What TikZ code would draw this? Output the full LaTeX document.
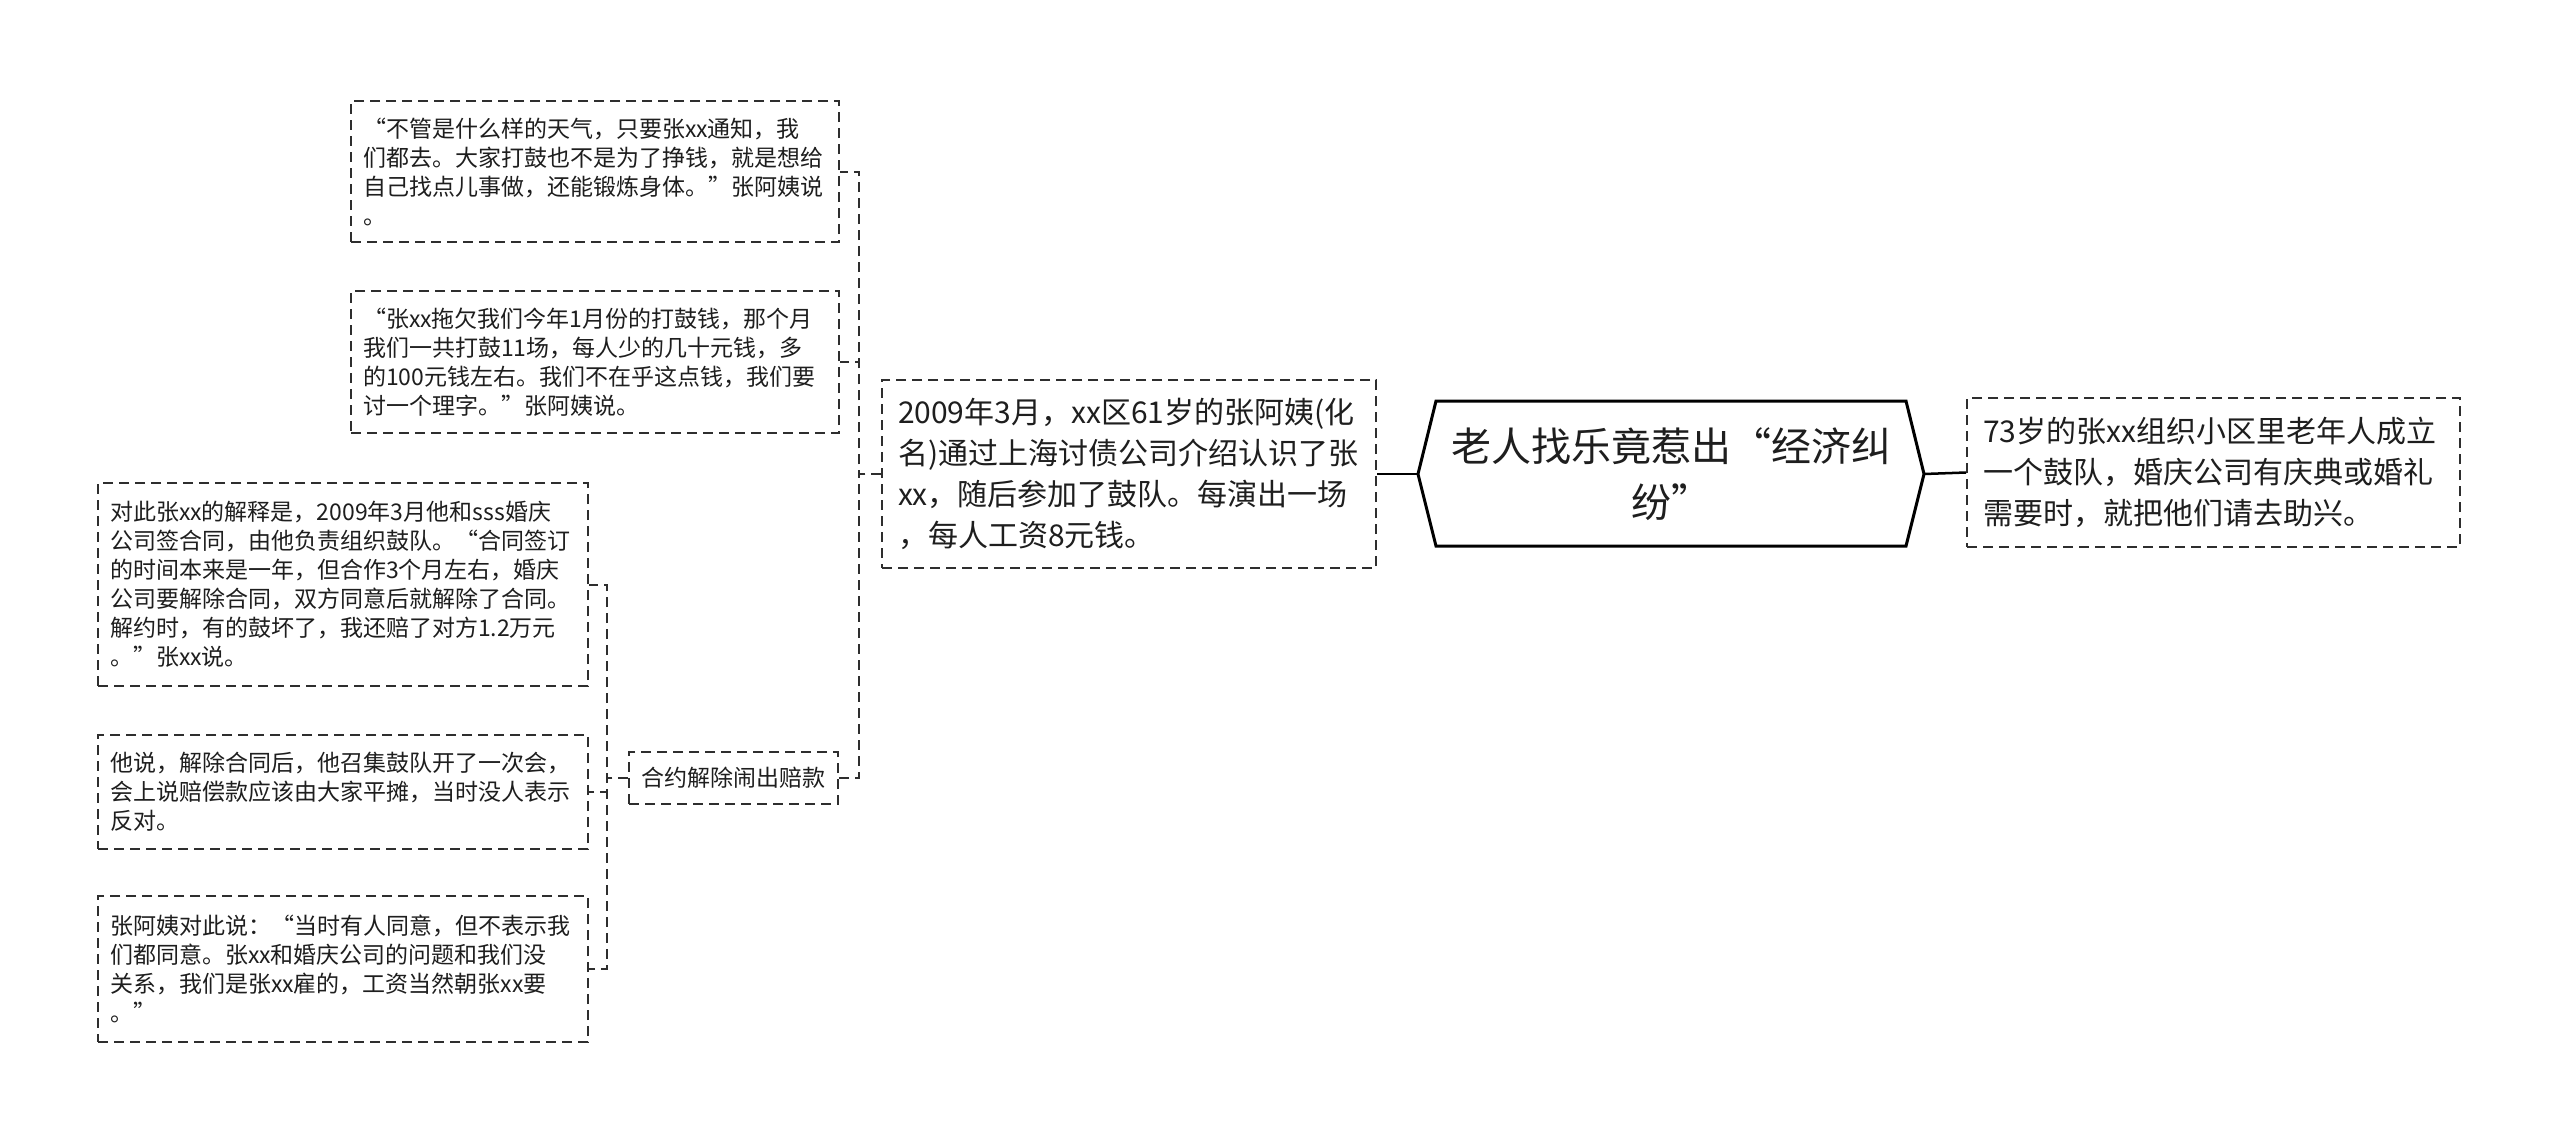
\documentclass[tikz,border=0pt]{standalone}
\usepackage{fontspec}
\setmainfont{Noto Sans CJK SC}
\newcommand{\myzq}{{\addfontfeature{RawFeature=+fwid}“}}
\newcommand{\myyq}{{\addfontfeature{RawFeature=+fwid}”}}
\definecolor{txt}{HTML}{1E1E1E}
\definecolor{linec}{HTML}{2E2E2E}
\tikzset{
  box/.style={draw=linec, line width=2pt, dash pattern=on 10pt off 6pt, rectangle, align=left, text=txt, inner ysep=0pt},
  smallbox/.style={box, font=\fontsize{23}{29}\selectfont, inner xsep=12pt},
  bigbox/.style={box, font=\fontsize{30}{41}\selectfont, inner xsep=16pt},
  conn/.style={draw=linec, line width=2pt, dash pattern=on 10pt off 6pt},
  solidconn/.style={draw=black, line width=2.5pt},
  rootborder/.style={draw=black, line width=3pt, line join=miter},
}
\begin{document}
\begin{tikzpicture}[x=1pt,y=-1pt]
\useasboundingbox[fill=white] (0,0) rectangle (2560,1141);

% root
\node[font=\fontsize{40}{56}\selectfont, align=center, text=txt] (root) at (1671,474) {老人找乐竟惹出\myzq 经济纠\\纷\myyq};
\draw[rootborder] (1418,474) coordinate (rootW) -- (1436,401) -- (1906,401) -- (1924,474) coordinate (rootE) -- (1906,546) -- (1436,546) -- cycle;

% right node
\node[bigbox, text width=461pt, minimum height=149pt] (r1) at (2213.5,472.5)
 {73岁的张xx组织小区里老年人成立\\一个鼓队，婚庆公司有庆典或婚礼\\需要时，就把他们请去助兴。};

% mid node
\node[bigbox, text width=462pt, minimum height=188pt] (mid) at (1129,474)
 {2009年3月，xx区61岁的张阿姨(化\\名)通过上海讨债公司介绍认识了张\\xx，随后参加了鼓队。每演出一场\\，每人工资8元钱。};

% quote boxes
\node[smallbox, text width=464pt, minimum height=141pt] (q1) at (595,171.5)
 {\myzq 不管是什么样的天气，只要张xx通知，我\\们都去。大家打鼓也不是为了挣钱，就是想给\\自己找点儿事做，还能锻炼身体。\myyq 张阿姨说\\。};
\node[smallbox, text width=464pt, minimum height=142pt] (q2) at (595,362)
 {\myzq 张xx拖欠我们今年1月份的打鼓钱，那个月\\我们一共打鼓11场，每人少的几十元钱，多\\的100元钱左右。我们不在乎这点钱，我们要\\讨一个理字。\myyq 张阿姨说。};

% contract node
\node[smallbox, align=center, inner xsep=0pt, minimum width=209pt, minimum height=52pt] (he) at (733.5,778) {合约解除闹出赔款};

% left boxes
\node[smallbox, text width=466pt, minimum height=203pt] (qa) at (343,584.5)
 {对此张xx的解释是，2009年3月他和sss婚庆\\公司签合同，由他负责组织鼓队。\myzq 合同签订\\的时间本来是一年，但合作3个月左右，婚庆\\公司要解除合同，双方同意后就解除了合同。\\解约时，有的鼓坏了，我还赔了对方1.2万元\\。\myyq 张xx说。};
\node[smallbox, text width=466pt, minimum height=114pt] (qb) at (343,792)
 {他说，解除合同后，他召集鼓队开了一次会，\\会上说赔偿款应该由大家平摊，当时没人表示\\反对。};
\node[smallbox, text width=466pt, minimum height=146pt] (qc) at (343,969)
 {张阿姨对此说：\myzq 当时有人同意，但不表示我\\们都同意。张xx和婚庆公司的问题和我们没\\关系，我们是张xx雇的，工资当然朝张xx要\\。\myyq};

% connectors
\draw[solidconn] (rootW) -- (mid.east);
\draw[solidconn] (rootE) -- (r1.west);
\draw[conn] (mid.west) -- ++(-22,0) |- (q1.east);
\draw[conn] (mid.west) -- ++(-22,0) |- (q2.east);
\draw[conn] (mid.west) -- ++(-22,0) |- (he.east);
\draw[conn] (he.west) -- ++(-21,0) |- (qa.east);
\draw[conn] (he.west) -- ++(-21,0) |- (qb.east);
\draw[conn] (he.west) -- ++(-21,0) |- (qc.east);
\end{tikzpicture}
\end{document}
